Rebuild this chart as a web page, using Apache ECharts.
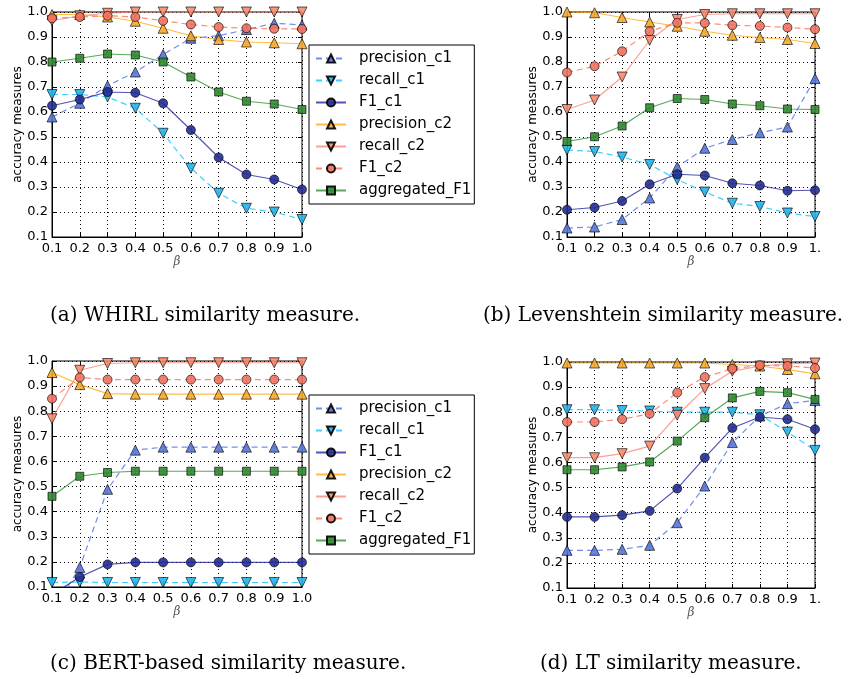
<!DOCTYPE html>
<html>
<head>
<meta charset="utf-8">
<script src="https://cdn.jsdelivr.net/npm/echarts@6/dist/echarts.min.js"></script>
<style>
  html, body { margin: 0; padding: 0; background: #fff; }
  #main { width: 854px; height: 679px; }
</style>
</head>
<body>
<div id="main"></div>
<script>
var beta = ["0.1", "0.2", "0.3", "0.4", "0.5", "0.6", "0.7", "0.8", "0.9", "1.0"];
var yTicks = [0.1, 1.0, 0.1]; // min, max, step

var names = ["precision_c1", "recall_c1", "F1_c1", "precision_c2", "recall_c2", "F1_c2", "aggregated_F1"];

// (a) WHIRL
var whirl_precision_c1 = [0.58, 0.635, 0.705, 0.76, 0.83, 0.895, 0.905, 0.93, 0.955, 0.948];
var whirl_recall_c1 = [0.67, 0.67, 0.66, 0.615, 0.515, 0.375, 0.275, 0.215, 0.2, 0.17];
var whirl_F1_c1 = [0.625, 0.65, 0.68, 0.677, 0.635, 0.528, 0.418, 0.35, 0.33, 0.29];
var whirl_precision_c2 = [0.99, 0.99, 0.98, 0.963, 0.935, 0.905, 0.89, 0.88, 0.877, 0.873];
var whirl_recall_c2 = [0.965, 0.985, 0.995, 1.0, 1.0, 1.0, 1.0, 1.0, 1.0, 1.0];
var whirl_F1_c2 = [0.975, 0.98, 0.985, 0.98, 0.965, 0.95, 0.94, 0.935, 0.933, 0.932];
var whirl_aggregated_F1 = [0.8, 0.815, 0.832, 0.828, 0.8, 0.74, 0.68, 0.643, 0.632, 0.61];

// (b) Levenshtein
var lev_precision_c1 = [0.136, 0.14, 0.17, 0.256, 0.38, 0.455, 0.49, 0.517, 0.54, 0.734];
var lev_recall_c1 = [0.448, 0.442, 0.42, 0.39, 0.33, 0.28, 0.235, 0.222, 0.196, 0.182];
var lev_F1_c1 = [0.209, 0.218, 0.244, 0.311, 0.351, 0.346, 0.315, 0.306, 0.285, 0.287];
var lev_precision_c2 = [1.0, 0.997, 0.978, 0.96, 0.943, 0.923, 0.907, 0.898, 0.89, 0.874];
var lev_recall_c2 = [0.61, 0.648, 0.74, 0.887, 0.97, 0.99, 0.993, 0.993, 0.993, 0.993];
var lev_F1_c2 = [0.758, 0.783, 0.843, 0.923, 0.957, 0.956, 0.947, 0.944, 0.938, 0.931];
var lev_aggregated_F1 = [0.482, 0.501, 0.544, 0.617, 0.654, 0.65, 0.632, 0.625, 0.612, 0.61];

// (c) BERT-based
var bert_precision_c1 = [0.0, 0.178, 0.489, 0.645, 0.657, 0.657, 0.657, 0.657, 0.657, 0.657];
var bert_recall_c1 = [0.118, 0.12, 0.118, 0.118, 0.118, 0.118, 0.118, 0.118, 0.118, 0.118];
var bert_F1_c1 = [0.07, 0.14, 0.19, 0.198, 0.198, 0.198, 0.198, 0.198, 0.198, 0.198];
var bert_precision_c2 = [0.954, 0.906, 0.87, 0.868, 0.868, 0.868, 0.868, 0.868, 0.868, 0.868];
var bert_recall_c2 = [0.77, 0.963, 0.99, 0.993, 0.993, 0.993, 0.993, 0.993, 0.993, 0.993];
var bert_F1_c2 = [0.85, 0.934, 0.926, 0.926, 0.926, 0.926, 0.926, 0.926, 0.926, 0.926];
var bert_aggregated_F1 = [0.461, 0.541, 0.556, 0.561, 0.561, 0.561, 0.561, 0.561, 0.561, 0.561];

// (d) LT
var lt_precision_c1 = [0.25, 0.25, 0.254, 0.27, 0.36, 0.506, 0.679, 0.785, 0.834, 0.847];
var lt_recall_c1 = [0.81, 0.81, 0.807, 0.805, 0.8, 0.8, 0.8, 0.79, 0.721, 0.648];
var lt_F1_c1 = [0.383, 0.383, 0.39, 0.407, 0.496, 0.619, 0.737, 0.781, 0.772, 0.732];
var lt_precision_c2 = [0.996, 0.996, 0.996, 0.996, 0.996, 0.996, 0.99, 0.984, 0.97, 0.953];
var lt_recall_c2 = [0.619, 0.619, 0.635, 0.665, 0.788, 0.894, 0.963, 0.984, 0.993, 0.996];
var lt_F1_c2 = [0.761, 0.761, 0.772, 0.794, 0.878, 0.94, 0.973, 0.987, 0.984, 0.976];
var lt_aggregated_F1 = [0.571, 0.571, 0.582, 0.602, 0.685, 0.778, 0.857, 0.883, 0.878, 0.851];

var captions = [
  "(a) WHIRL similarity measure.",
  "(b) Levenshtein similarity measure.",
  "(c) BERT-based similarity measure.",
  "(d) LT similarity measure.",
];

var panels = [
  [whirl_precision_c1, whirl_recall_c1, whirl_F1_c1, whirl_precision_c2, whirl_recall_c2, whirl_F1_c2, whirl_aggregated_F1],
  [lev_precision_c1, lev_recall_c1, lev_F1_c1, lev_precision_c2, lev_recall_c2, lev_F1_c2, lev_aggregated_F1],
  [bert_precision_c1, bert_recall_c1, bert_F1_c1, bert_precision_c2, bert_recall_c2, bert_F1_c2, bert_aggregated_F1],
  [lt_precision_c1, lt_recall_c1, lt_F1_c1, lt_precision_c2, lt_recall_c2, lt_F1_c2, lt_aggregated_F1],
];

// look of each measure, matplotlib-ish
var looks = [
  { line: "#4169e1", fill: "#5577dd", symbol: "triangle", rotate: 0, size: 10, dash: true },
  { line: "#00bfff", fill: "#22b4ec", symbol: "triangle", rotate: 180, size: 10, dash: true },
  { line: "#1a1a9a", fill: "#232d94", symbol: "circle", rotate: 0, size: 9, dash: false },
  { line: "#ffa500", fill: "#f8a82a", symbol: "triangle", rotate: 0, size: 10, dash: false },
  { line: "#fa8072", fill: "#f98b6e", symbol: "triangle", rotate: 180, size: 10, dash: false },
  { line: "#ff6347", fill: "#f2725f", symbol: "circle", rotate: 0, size: 9, dash: true },
  { line: "#228b22", fill: "#2f8a2f", symbol: "rect", rotate: 0, size: 8, dash: false },
];

var grids = [
  { left: 52, top: 12, width: 250, height: 225 },
  { left: 567, top: 12, width: 248, height: 225 },
  { left: 52, top: 361, width: 250, height: 226 },
  { left: 567, top: 362, width: 248, height: 226 },
];
var captionPos = [
  { left: 45, top: 301 },
  { left: 478, top: 301 },
  { left: 45, top: 649 },
  { left: 535, top: 649 },
];

var tickFont = { color: "#000", fontSize: 13, fontFamily: "DejaVu Sans" };
var xAxes = [], yAxes = [], series = [], titles = [];

grids.forEach(function (g, i) {
  g.show = true;
  g.borderColor = "#000";
  g.borderWidth = 1;
  g.backgroundColor = "#fff";
  var cutLast = i === 1 || i === 3;
  xAxes.push({
    type: "category",
    gridIndex: i,
    data: beta,
    boundaryGap: false,
    name: "\u03b2",
    nameLocation: "middle",
    nameGap: 15,
    nameTextStyle: { fontFamily: "DejaVu Serif", fontStyle: "italic", fontSize: 12, color: "#555" },
    axisLine: { lineStyle: { color: "#000" } },
    axisTick: { inside: true, length: 4, lineStyle: { color: "#000" } },
    axisLabel: {
      margin: 5,
      ...tickFont,
      formatter: function (v) { return cutLast && v === "1.0" ? "1." : v; },
    },
    splitLine: { show: true, lineStyle: { color: "#000", type: [1, 3] } },
  });
  xAxes.push({
    type: "category", gridIndex: i, data: beta, boundaryGap: false, position: "top",
    axisLine: { show: false }, axisLabel: { show: false }, splitLine: { show: false },
    axisTick: { inside: true, length: 4, lineStyle: { color: "#000" } },
  });
  yAxes.push({
    type: "value",
    gridIndex: i,
    min: yTicks[0],
    max: yTicks[1],
    interval: yTicks[2],
    name: "accuracy measures",
    nameLocation: "middle",
    nameGap: 28,
    nameTextStyle: { fontFamily: "DejaVu Sans", fontSize: 12, color: "#000" },
    axisLine: { show: true, lineStyle: { color: "#000" } },
    axisTick: { show: true, inside: true, length: 4, lineStyle: { color: "#000" } },
    axisLabel: { margin: 4, ...tickFont, formatter: function (v) { return v.toFixed(1); } },
    splitLine: { show: true, lineStyle: { color: "#000", type: [1, 3] } },
  });
  yAxes.push({
    type: "value", gridIndex: i, min: yTicks[0], max: yTicks[1], interval: yTicks[2], position: "right",
    axisLine: { show: false }, axisLabel: { show: false }, splitLine: { show: false },
    axisTick: { show: true, inside: true, length: 4, lineStyle: { color: "#000" } },
  });

  panels[i].forEach(function (vals, k) {
    var lk = looks[k];
    series.push({
      type: "line",
      name: names[k],
      xAxisIndex: i * 2,
      yAxisIndex: i * 2,
      data: vals,
      clip: true,
      symbol: lk.symbol,
      symbolRotate: lk.rotate,
      symbolSize: lk.size,
      showAllSymbol: true,
      lineStyle: { color: lk.line, width: 1.2, opacity: 0.75, type: lk.dash ? [6, 4] : "solid" },
      itemStyle: { color: lk.fill, borderColor: "#000", borderWidth: 0.7, opacity: 0.9 },
      emphasis: { disabled: true },
      animation: false,
      z: 2 + k,
    });
  });

  titles.push({
    text: captions[i],
    left: captionPos[i].left,
    top: captionPos[i].top,
    textStyle: { fontFamily: "DejaVu Serif", fontSize: 20, fontWeight: "normal", color: "#000" },
  });
});

function makeLegend(top) {
  return {
    orient: "vertical",
    left: 309,
    top: top,
    data: names,
    backgroundColor: "#fff",
    borderColor: "#000",
    borderWidth: 1,
    borderRadius: 0,
    padding: [6, 3, 6, 6],
    itemWidth: 30,
    itemHeight: 10,
    itemGap: 7,
    selectedMode: false,
    textStyle: { fontFamily: "DejaVu Sans", fontSize: 15, color: "#000", padding: [0, 0, 0, 8] },
  };
}

var chart = echarts.init(document.getElementById("main"));
chart.setOption({
  backgroundColor: "#fff",
  animation: false,
  title: titles,
  legend: [makeLegend(45), makeLegend(395)],
  grid: grids,
  xAxis: xAxes,
  yAxis: yAxes,
  series: series,
});
</script>
</body>
</html>
